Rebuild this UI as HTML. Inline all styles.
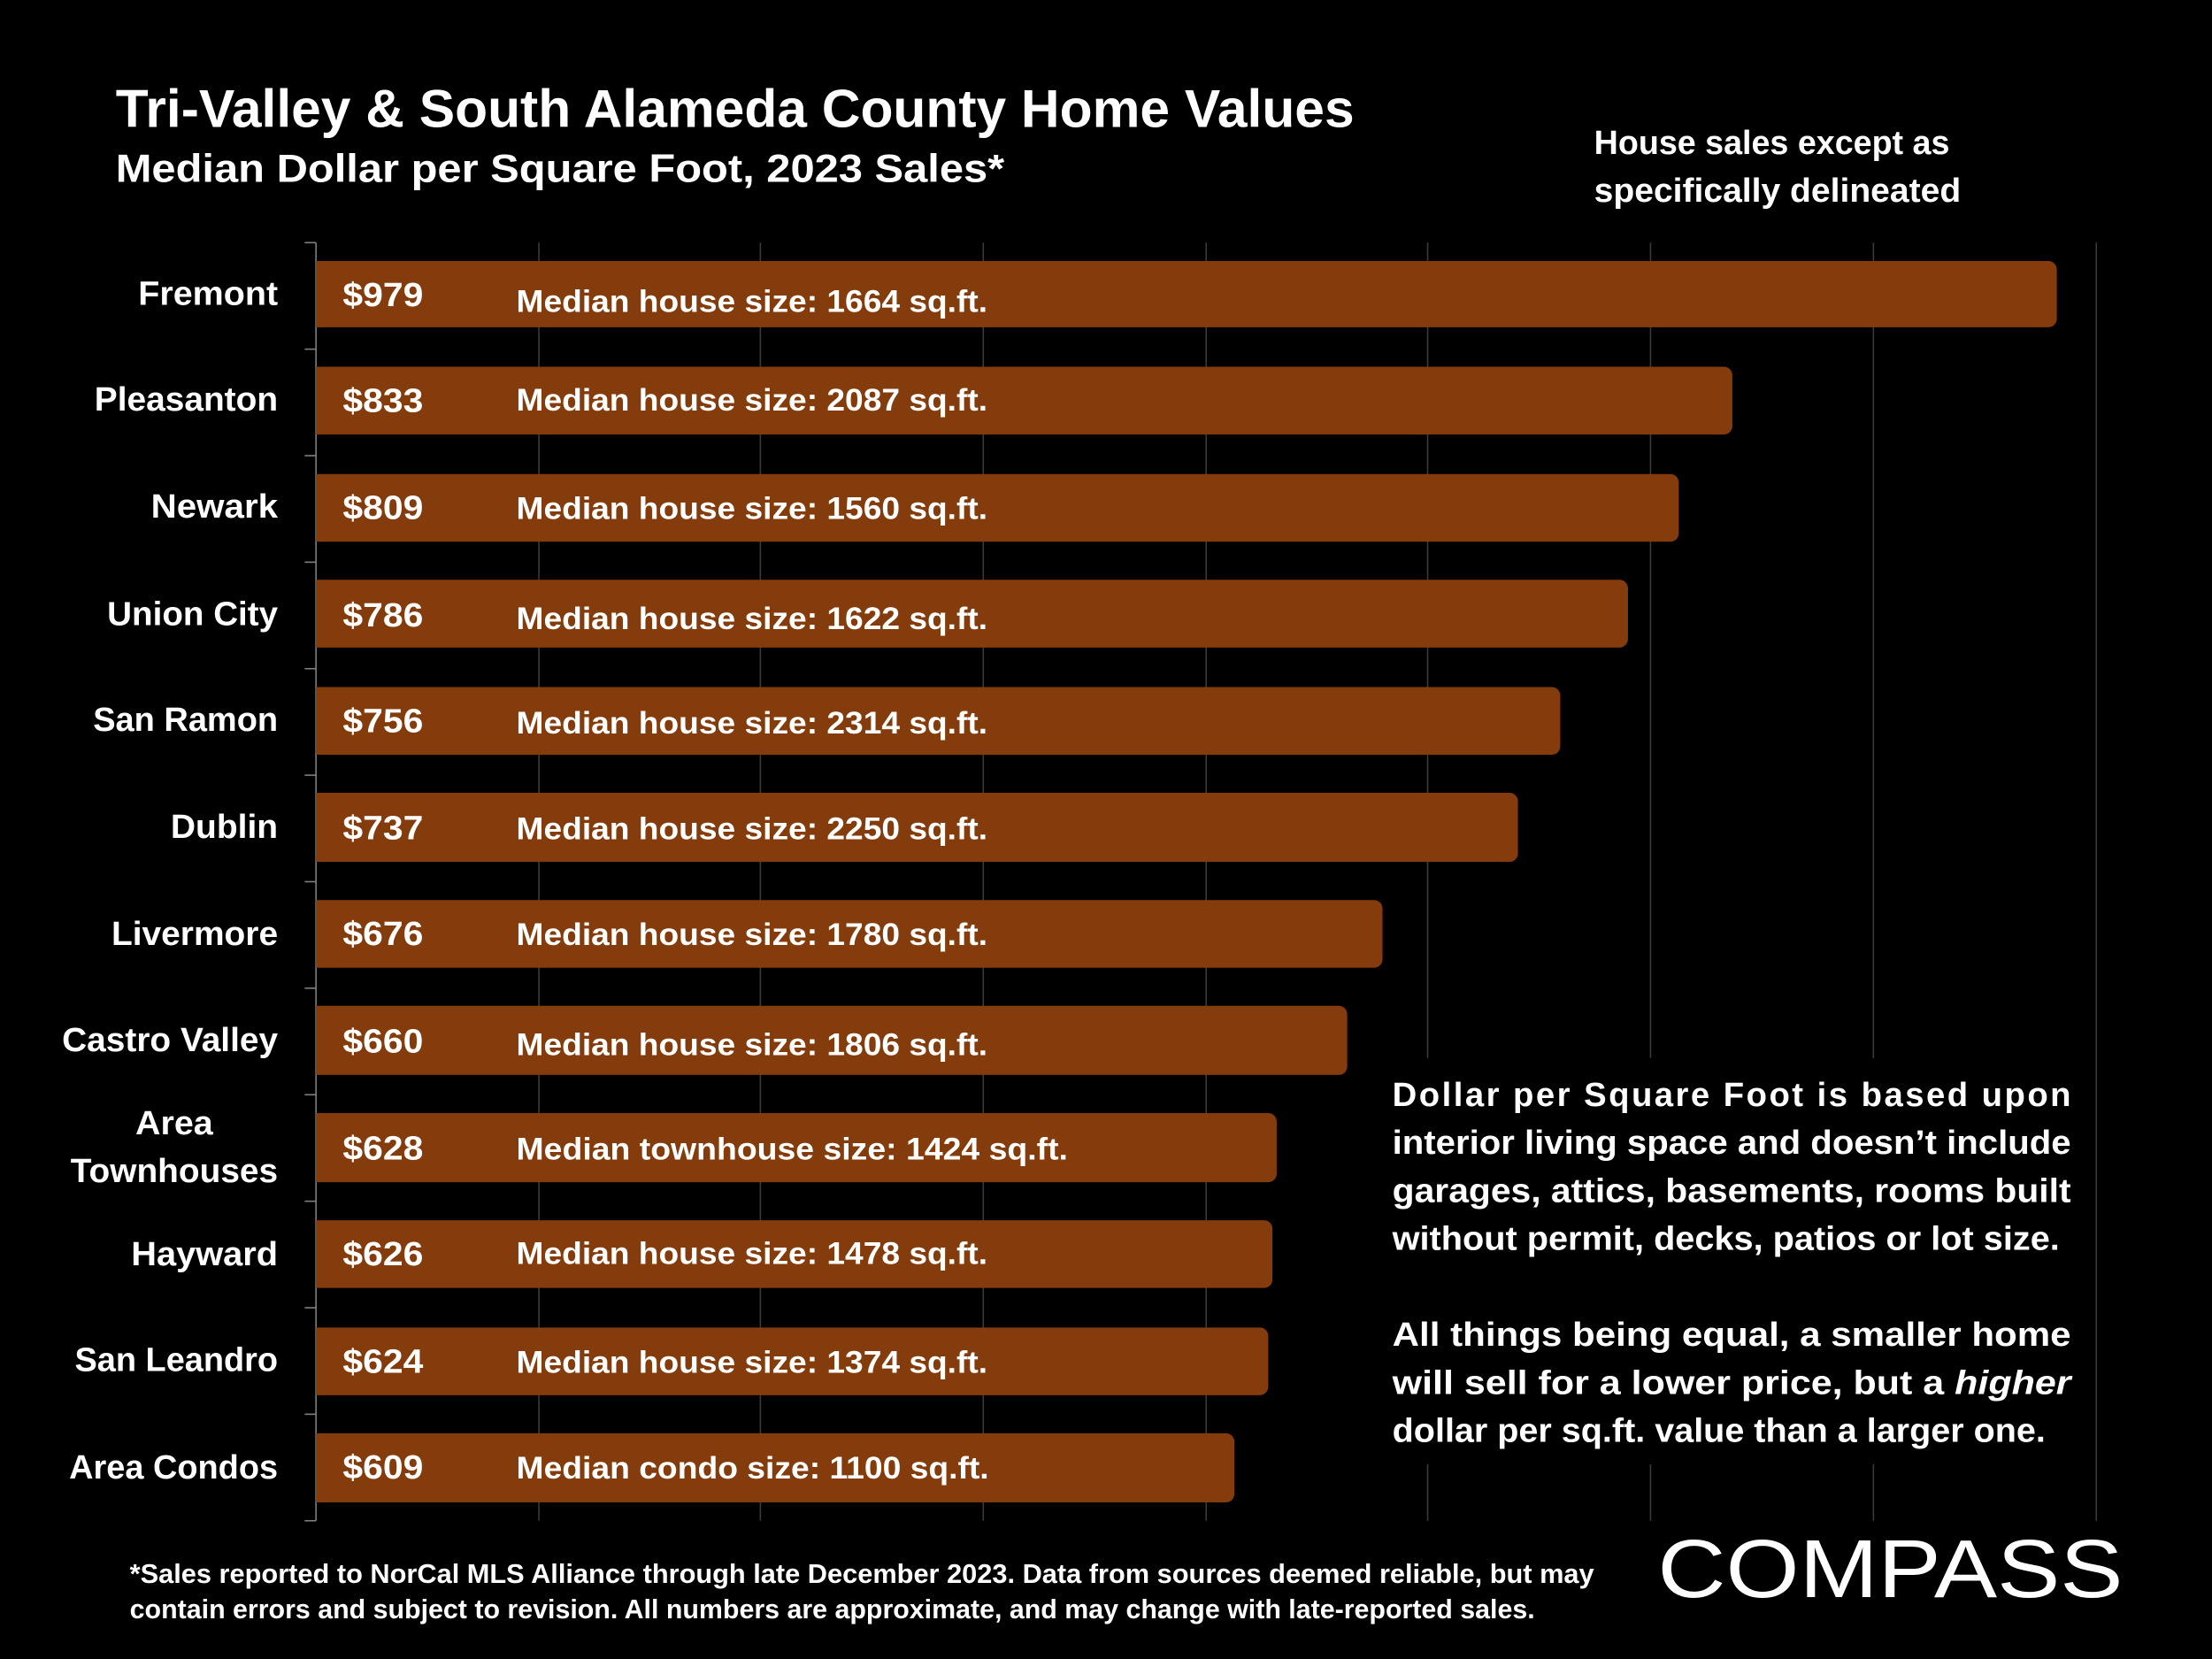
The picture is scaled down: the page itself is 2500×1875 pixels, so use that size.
<!DOCTYPE html>
<html><head><meta charset="utf-8"><style>html,body{margin:0;padding:0;background:#000}svg{display:block}</style></head>
<body>
<svg width="2500" height="1875" viewBox="0 0 1568 1176" xmlns="http://www.w3.org/2000/svg" font-family="Liberation Sans, sans-serif" font-weight="bold" fill="#fff">
<rect width="1568" height="1176" fill="#000"/>
<g stroke="#3a3a3a" stroke-width="1">
<line x1="382" y1="172" x2="382" y2="1078"/><line x1="539" y1="172" x2="539" y2="1078"/>
<line x1="697" y1="172" x2="697" y2="1078"/><line x1="855" y1="172" x2="855" y2="1078"/>
<line x1="1012" y1="172" x2="1012" y2="1078"/><line x1="1170" y1="172" x2="1170" y2="1078"/>
<line x1="1328" y1="172" x2="1328" y2="1078"/><line x1="1486" y1="172" x2="1486" y2="1078"/>
</g>
<rect x="975" y="750" width="505" height="288" fill="#000"/>
<g stroke="#7f7f7f" stroke-width="1">
<line x1="224" y1="172" x2="224" y2="1078"/>
<line x1="216" y1="172" x2="224" y2="172"/><line x1="216" y1="247.5" x2="224" y2="247.5"/>
<line x1="216" y1="323" x2="224" y2="323"/><line x1="216" y1="398.5" x2="224" y2="398.5"/>
<line x1="216" y1="474" x2="224" y2="474"/><line x1="216" y1="549.5" x2="224" y2="549.5"/>
<line x1="216" y1="625" x2="224" y2="625"/><line x1="216" y1="700.5" x2="224" y2="700.5"/>
<line x1="216" y1="776" x2="224" y2="776"/><line x1="216" y1="851.5" x2="224" y2="851.5"/>
<line x1="216" y1="927" x2="224" y2="927"/><line x1="216" y1="1002.5" x2="224" y2="1002.5"/>
<line x1="216" y1="1078" x2="224" y2="1078"/>
</g>
<g fill="#843C0C">
<path d="M224 185H1452a6 6 0 0 1 6 6V226a6 6 0 0 1-6 6H224Z"/>
<path d="M224 260H1222a6 6 0 0 1 6 6V302a6 6 0 0 1-6 6H224Z"/>
<path d="M224 336H1184a6 6 0 0 1 6 6V378a6 6 0 0 1-6 6H224Z"/>
<path d="M224 411H1148a6 6 0 0 1 6 6V453a6 6 0 0 1-6 6H224Z"/>
<path d="M224 487H1100a6 6 0 0 1 6 6V529a6 6 0 0 1-6 6H224Z"/>
<path d="M224 562H1070a6 6 0 0 1 6 6V605a6 6 0 0 1-6 6H224Z"/>
<path d="M224 638H974a6 6 0 0 1 6 6V680a6 6 0 0 1-6 6H224Z"/>
<path d="M224 713H949a6 6 0 0 1 6 6V756a6 6 0 0 1-6 6H224Z"/>
<path d="M224 789H899a6 6 0 0 1 6 6V832a6 6 0 0 1-6 6H224Z"/>
<path d="M224 865H896a6 6 0 0 1 6 6V907a6 6 0 0 1-6 6H224Z"/>
<path d="M224 941H893a6 6 0 0 1 6 6V983a6 6 0 0 1-6 6H224Z"/>
<path d="M224 1016H869a6 6 0 0 1 6 6V1059a6 6 0 0 1-6 6H224Z"/>
</g>
<g font-size="24" lengthAdjust="spacingAndGlyphs">
<text x="243" y="217" textLength="57" lengthAdjust="spacingAndGlyphs">$979</text>
<text x="243" y="292" textLength="57" lengthAdjust="spacingAndGlyphs">$833</text>
<text x="243" y="368" textLength="57" lengthAdjust="spacingAndGlyphs">$809</text>
<text x="243" y="444" textLength="57" lengthAdjust="spacingAndGlyphs">$786</text>
<text x="243" y="519" textLength="57" lengthAdjust="spacingAndGlyphs">$756</text>
<text x="243" y="595" textLength="57" lengthAdjust="spacingAndGlyphs">$737</text>
<text x="243" y="670" textLength="57" lengthAdjust="spacingAndGlyphs">$676</text>
<text x="243" y="746" textLength="57" lengthAdjust="spacingAndGlyphs">$660</text>
<text x="243" y="822" textLength="57" lengthAdjust="spacingAndGlyphs">$628</text>
<text x="243" y="897" textLength="57" lengthAdjust="spacingAndGlyphs">$626</text>
<text x="243" y="973" textLength="57" lengthAdjust="spacingAndGlyphs">$624</text>
<text x="243" y="1048" textLength="57" lengthAdjust="spacingAndGlyphs">$609</text>
</g>
<g font-size="22">
<text x="366" y="221" textLength="334" lengthAdjust="spacingAndGlyphs">Median house size:  1664 sq.ft.</text>
<text x="366" y="291" textLength="334" lengthAdjust="spacingAndGlyphs">Median house size:  2087 sq.ft.</text>
<text x="366" y="368" textLength="334" lengthAdjust="spacingAndGlyphs">Median house size:  1560 sq.ft.</text>
<text x="366" y="446" textLength="334" lengthAdjust="spacingAndGlyphs">Median house size:  1622 sq.ft.</text>
<text x="366" y="520" textLength="334" lengthAdjust="spacingAndGlyphs">Median house size:  2314 sq.ft.</text>
<text x="366" y="595" textLength="334" lengthAdjust="spacingAndGlyphs">Median house size:  2250 sq.ft.</text>
<text x="366" y="670" textLength="334" lengthAdjust="spacingAndGlyphs">Median house size:  1780 sq.ft.</text>
<text x="366" y="748" textLength="334" lengthAdjust="spacingAndGlyphs">Median house size:  1806 sq.ft.</text>
<text x="366" y="822" textLength="391" lengthAdjust="spacingAndGlyphs">Median townhouse size:  1424 sq.ft.</text>
<text x="366" y="896" textLength="334" lengthAdjust="spacingAndGlyphs">Median house size:  1478 sq.ft.</text>
<text x="366" y="973" textLength="334" lengthAdjust="spacingAndGlyphs">Median house size:  1374 sq.ft.</text>
<text x="366" y="1048" textLength="335" lengthAdjust="spacingAndGlyphs">Median condo size:  1100 sq.ft.</text>
</g>
<g font-size="24">
<text x="98" y="216" textLength="99" lengthAdjust="spacingAndGlyphs">Fremont</text>
<text x="67" y="291" textLength="130" lengthAdjust="spacingAndGlyphs">Pleasanton</text>
<text x="107" y="367" textLength="90" lengthAdjust="spacingAndGlyphs">Newark</text>
<text x="76" y="443" textLength="121" lengthAdjust="spacingAndGlyphs">Union City</text>
<text x="66" y="518" textLength="131" lengthAdjust="spacingAndGlyphs">San Ramon</text>
<text x="121" y="594" textLength="76" lengthAdjust="spacingAndGlyphs">Dublin</text>
<text x="79" y="670" textLength="118" lengthAdjust="spacingAndGlyphs">Livermore</text>
<text x="44" y="745" textLength="153" lengthAdjust="spacingAndGlyphs">Castro Valley</text>
<text x="96" y="804" textLength="55" lengthAdjust="spacingAndGlyphs">Area</text>
<text x="50" y="838" textLength="147" lengthAdjust="spacingAndGlyphs">Townhouses</text>
<text x="93" y="897" textLength="104" lengthAdjust="spacingAndGlyphs">Hayward</text>
<text x="53" y="972" textLength="144" lengthAdjust="spacingAndGlyphs">San Leandro</text>
<text x="49" y="1048" textLength="148" lengthAdjust="spacingAndGlyphs">Area Condos</text>
</g>
<text x="82" y="90" font-size="38" textLength="878" lengthAdjust="spacingAndGlyphs">Tri-Valley &amp; South Alameda County Home Values</text>
<text x="82" y="129" font-size="28" textLength="630" lengthAdjust="spacingAndGlyphs">Median Dollar per Square Foot, 2023 Sales*</text>
<text x="1130" y="109" font-size="24" textLength="252" lengthAdjust="spacingAndGlyphs">House sales except as</text>
<text x="1130" y="143" font-size="24" textLength="260" lengthAdjust="spacingAndGlyphs">specifically delineated</text>
<g font-size="24">
<text x="987" y="784" textLength="481" lengthAdjust="spacing">Dollar per Square Foot is based upon</text>
<text x="987" y="818" textLength="481" lengthAdjust="spacingAndGlyphs">interior living space and doesn’t include</text>
<text x="987" y="852" textLength="481" lengthAdjust="spacingAndGlyphs">garages, attics, basements, rooms built</text>
<text x="987" y="886" textLength="473" lengthAdjust="spacingAndGlyphs">without permit, decks, patios or lot size.</text>
<text x="987" y="954" textLength="481" lengthAdjust="spacingAndGlyphs">All things being equal, a smaller home</text>
<text x="987" y="988" textLength="481" lengthAdjust="spacingAndGlyphs">will sell for a lower price, but a <tspan font-style="italic">higher</tspan></text>
<text x="987" y="1022" textLength="463" lengthAdjust="spacingAndGlyphs">dollar per sq.ft. value than a larger one.</text>
</g>
<g font-size="19">
<text x="92" y="1122" textLength="1038" lengthAdjust="spacingAndGlyphs">*Sales reported to NorCal MLS Alliance through late December 2023. Data from sources deemed reliable, but may</text>
<text x="92" y="1147" textLength="996" lengthAdjust="spacingAndGlyphs">contain errors and subject to revision. All numbers are approximate, and may change with late-reported sales.</text>
</g>
<text x="1175" y="1132" font-size="58" font-weight="normal" textLength="330" lengthAdjust="spacingAndGlyphs">COMPASS</text>
</svg>
</body></html>
